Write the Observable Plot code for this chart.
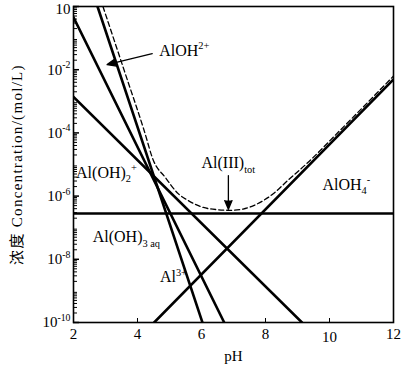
<!DOCTYPE html>
<html><head><meta charset="utf-8">
<script src="https://cdn.jsdelivr.net/npm/d3@7"></script>
<script src="https://cdn.jsdelivr.net/npm/@observablehq/plot@0.6"></script>
<style>
body{margin:0;background:#fff;}
#chart{width:410px;height:365px;}
</style></head><body><div id="chart"></div>
<script>
// Species lines (endpoints): pH and log10 concentration
const speciesNames = ["Al3+", "AlOH2+", "Al(OH)2+", "Al(OH)3aq", "AlOH4-"];
const speciesPH   = [[2.75, 6.03], [2.0, 6.71], [2.0, 9.14], [2.0, 12.0], [4.52, 12.0]];
const speciesLogC = [[0, -10], [-0.34, -10], [-2.86, -10], [-6.55, -6.55], [-10, -2.31]];

// Total dissolved Al(III) (dashed curve)
const totPH   = [2.92, 3.6, 4.2, 4.5, 4.87, 5.28, 5.6, 6.06, 6.5, 6.9, 7.3, 7.63, 7.95, 8.25, 8.7, 9.29, 10.33, 11.2, 12.0];
const totLogC = [0, -2.07, -3.9, -4.88, -5.41, -5.93, -6.15, -6.36, -6.43, -6.45, -6.41, -6.30, -6.13, -5.92, -5.5, -4.97, -3.92, -3.03, -2.2];

// Axis ticks
const xTicks = [2, 4, 6, 8, 10, 12];
const yTickExp = [0, -2, -4, -6, -8, -10];
const yTickLabels = ["10", "10^{-2}", "10^{-4}", "10^{-6}", "10^{-8}", "10^{-10}"];

// Annotation texts
const labelTexts = ["AlOH^{2+}", "Al(OH)_{2}^{+}", "Al(OH)_{3 aq}", "Al^{3+}", "Al(III)_{tot}", "AlOH_{4}^{-}"];
const labelPH    = [4.68, 2.08, 2.6, 4.7, 6.0, 9.78];
const labelLogC  = [-1.4, -5.25, -7.3, -8.57, -4.95, -5.63];

const yTitle = "浓度 Concentration/(mol/L)";

const lineData = [];
speciesNames.forEach((s, i) => speciesPH[i].forEach((p, j) =>
  lineData.push({species: s, pH: p, C: Math.pow(10, speciesLogC[i][j])})));
const totData = totPH.map((p, i) => ({pH: p, C: Math.pow(10, totLogC[i])}));
const labelData = labelTexts.map((t, i) => ({t, pH: labelPH[i], C: Math.pow(10, labelLogC[i])}));
const yMajor = yTickExp.map(e => Math.pow(10, e));
const yMinor = [];
for (let e = -10; e < 0; e++) for (let m = 2; m <= 9; m++) yMinor.push(m * Math.pow(10, e));
const arrowData = [
  {x1: 4.46, y1: Math.pow(10, -1.49), x2: 3.05, y2: Math.pow(10, -1.84)},
  {x1: 6.84, y1: Math.pow(10, -5.35), x2: 6.84, y2: Math.pow(10, -6.42)}
];

const font = "'Liberation Serif', 'Noto Sans CJK SC', serif";
const chart = Plot.plot({
  width: 410, height: 365,
  marginLeft: 73, marginRight: 17, marginTop: 6, marginBottom: 43,
  style: {fontFamily: font, fontSize: "15px", background: "white", color: "black", overflow: "visible"},
  x: {domain: [2, 12]},
  y: {type: "log", domain: [1e-10, 1]},
  marks: [
    Plot.axisX({ticks: xTicks, tickSize: 0, tickPadding: 6, fontSize: 15,
      label: "pH", labelAnchor: "center", labelArrow: "none", labelOffset: 38}),
    Plot.axisX({ticks: [4, 6, 8, 10], tickSize: -4, text: null, label: null}),
    Plot.axisY({ticks: yMajor, tickSize: 0, tickPadding: 3, fontSize: 15,
      tickFormat: d => yTickLabels[yMajor.indexOf(d)],
      label: yTitle, labelAnchor: "center", labelArrow: "none", labelOffset: 62}),
    Plot.axisY({ticks: yMajor, tickSize: -6, text: null, label: null, strokeWidth: 1.5}),
    Plot.axisY({ticks: yMinor, tickSize: -4, text: null, label: null}),
    Plot.line(lineData, {x: "pH", y: "C", z: "species", stroke: "black", strokeWidth: 2.6, clip: true}),
    Plot.line(totData, {x: "pH", y: "C", stroke: "black", strokeWidth: 1.3, strokeDasharray: "5,3", curve: "monotone-x", clip: true}),
    Plot.arrow(arrowData, {x1: "x1", y1: "y1", x2: "x2", y2: "y2", stroke: "black", fill: "black", strokeWidth: 1.3, headLength: 11, headAngle: 45}),
    Plot.text(labelData, {x: "pH", y: "C", text: "t", textAnchor: "start", fontSize: 16, fill: "black"}),
    Plot.frame({stroke: "black", strokeWidth: 1.6})
  ]
});
document.getElementById("chart").appendChild(chart);

// Y title: wider letter spacing like the reference; keep the top tick label inside the picture
chart.querySelectorAll("text").forEach(t => {
  if (t.textContent === yTitle) { t.setAttribute("font-size", "15"); t.setAttribute("letter-spacing", "1.3"); }
  if (t.textContent === "10") {
    const dy = parseFloat(t.getAttribute("dy") || 0);
    t.setAttribute("dy", (isNaN(dy) ? 0 : dy) + 3);
  }
});

// Turn ^{...} and _{...} markup into real superscript/subscript tspans
function richify(textEl) {
  const src = textEl.textContent;
  if (!/[\^_]\{/.test(src)) return;
  const parts = [];
  const re = /([\^_])\{([^}]*)\}|([^\^_]+)/g;
  let m;
  while ((m = re.exec(src))) {
    if (m[3]) parts.push({s: m[3], k: 0});
    else parts.push({s: m[2], k: m[1] === "^" ? -1 : 1});
  }
  const fs = parseFloat(getComputedStyle(textEl).fontSize) || 14;
  while (textEl.firstChild) textEl.removeChild(textEl.firstChild);
  let cur = 0;
  parts.forEach(p => {
    const ts = document.createElementNS("http://www.w3.org/2000/svg", "tspan");
    const target = p.k === -1 ? -0.42 * fs : p.k === 1 ? 0.3 * fs : 0;
    ts.setAttribute("dy", (target - cur).toFixed(2));
    cur = target;
    if (p.k !== 0) ts.setAttribute("font-size", (0.65 * fs).toFixed(1));
    ts.textContent = p.s;
    textEl.appendChild(ts);
  });
}
chart.querySelectorAll("text").forEach(t => richify(t));
</script>
</body></html>
